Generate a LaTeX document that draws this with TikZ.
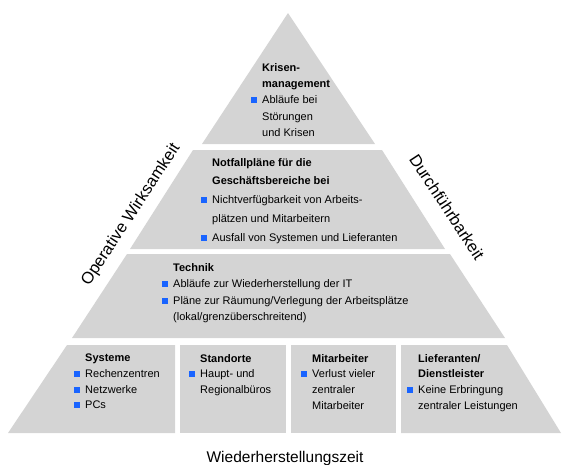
\documentclass[tikz,border=0pt]{standalone}
\usepackage{fontspec}
\setmainfont{Liberation Sans}
\usepackage{tikz}
\definecolor{pyrgray}{RGB}{212,212,212}
\definecolor{bulblue}{RGB}{25,100,255}
\newcommand{\bul}{\llap{\textcolor{bulblue}{\rule[0.5pt]{6pt}{6pt}}\hspace{5pt}}}

\begin{document}
\begin{tikzpicture}[x=1pt,y=-1pt,
  tier/.style={fill=pyrgray},
  txt/.style={anchor=north west,inner sep=0pt,align=left,font={\fontsize{11}{16.3}\selectfont}},
  side/.style={inner sep=0pt,font={\fontsize{16.5}{18}\selectfont}}]
\useasboundingbox (0,0) rectangle (563,464);

% Tiers
\fill[tier] (288,13) -- (375,144) -- (202,144) -- cycle;
\fill[tier] (193,150) -- (382,150) -- (445,249) -- (130,249) -- cycle;
\fill[tier] (127,254) -- (450,254) -- (505,338) -- (72,338) -- cycle;
% bottom row
\fill[tier] (67,345) -- (175,345) -- (175,433) -- (8,433) -- cycle;
\fill[tier] (180,345) rectangle (286,433);
\fill[tier] (291,345) rectangle (396,433);
\fill[tier] (401,345) -- (507,345) -- (561,433) -- (401,433) -- cycle;

% Texts
\node[txt] (krisen) at (262,63) {\textbf{Krisen-}\\\textbf{management}\\\bul Abläufe bei\\Störungen\\und Krisen};
\node[txt,font={\fontsize{11}{18.8}\selectfont}] (notfall) at (212,158)
  {\textbf{Notfallpläne für die}\\\textbf{Geschäftsbereiche bei}\\\bul Nichtverfügbarkeit von Arbeits-\\plätzen und Mitarbeitern\\\bul Ausfall von Systemen und Lieferanten};
\node[txt,font={\fontsize{11}{16.5}\selectfont}] (technik) at (173,263)
  {\textbf{Technik}\\\bul Abläufe zur Wiederherstellung der IT\\\bul Pläne zur Räumung/Verlegung der Arbeitsplätze\\(lokal/grenzüberschreitend)};
\node[txt,font={\fontsize{11}{15.7}\selectfont}] (systeme) at (85,354)
  {\textbf{Systeme}\\\bul Rechenzentren\\\bul Netzwerke\\\bul PCs};
\node[txt,font={\fontsize{11}{15.7}\selectfont}] (standorte) at (200,354)
  {\textbf{Standorte}\\\bul Haupt- und\\Regionalbüros};
\node[txt,font={\fontsize{11}{15.7}\selectfont}] (mitarb) at (312,354)
  {\textbf{Mitarbeiter}\\\bul Verlust vieler\\zentraler\\Mitarbeiter};
\node[txt,font={\fontsize{11}{15.7}\selectfont}] (liefer) at (418,354)
  {\textbf{Lieferanten/}\\\textbf{Dienstleister}\\\bul Keine Erbringung\\zentraler Leistungen};

% Side labels
\node[side,rotate=56.7] (operativ) at (131,215) {Operative Wirksamkeit};
\node[side,rotate=-56.7] (durchf) at (447,207) {Durchführbarkeit};
\node[side,anchor=base,font={\fontsize{15.5}{18}\selectfont}] (zeit) at (285,462) {Wiederherstellungszeit};
\end{tikzpicture}
\end{document}
